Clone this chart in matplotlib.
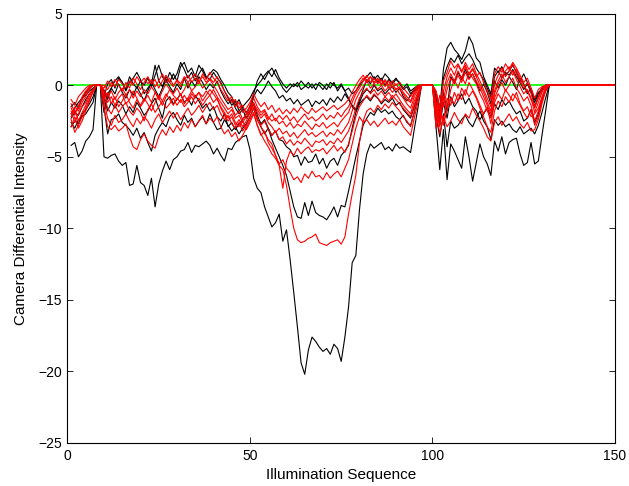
import numpy as np
import matplotlib
matplotlib.use('Agg')  # no display in the sandbox
import matplotlib.pyplot as plt

plt.rcParams['font.family'] = ['Liberation Sans', 'DejaVu Sans']

# Illumination index 1..131 carries data, afterwards every trace sits at 0 up to 150
X_LAST = 150

# Black traces (one per illumination step 1..131)
black_1 = [
    -4.2, -4.0, -5.0, -4.6, -3.9, -3.6, -3.1, 0, 0,
    -5.0, -5.1, -4.9, -4.8, -5.3, -5.6, -5.4, -7.0, -6.9, -5.6,
    -6.8, -7.0, -7.7, -6.5, -8.5, -6.9, -6.0, -5.3, -5.9, -5.2,
    -5.0, -4.6, -4.5, -4.0, -4.7, -4.2, -4.3, -4.1, -3.9, -4.2,
    -4.8, -4.4, -4.9, -5.3, -4.4, -4.5, -4.0, -3.8, -3.6, -3.5,
    -4.5, -6.5, -7.2, -7.5, -8.5, -9.2, -9.9, -9.6, -9.0, -10.9,
    -10.1, -12.2, -14.5, -16.9, -19.4, -20.2, -18.5, -17.6, -17.9, -18.3,
    -18.6, -18.4, -18.8, -18.1, -18.4, -19.3, -17.6, -15.5, -12.4, -11.9,
    -8.7, -6.2, -4.8, -4.1, -4.4, -4.2, -4.0, -4.5, -4.3, -4.6,
    -4.1, -4.4, -4.3, -4.5, -4.7, -3.1, -1.6, 0, 0, 0, 0,
    -3.0, -5.9, -3.1, -6.6, -4.1, -4.6, -5.2, -5.8, -3.6, -5.0,
    -6.7, -5.4, -4.1, -5.0, -5.5, -6.3, -3.9, -4.6, -3.6, -4.8,
    -4.0, -3.8, -3.7, -4.8, -5.6, -5.4, -4.0, -5.5, -5.3, -3.5,
    -1.8,
]
black_2 = [
    -2.6, -3.0, -2.4, -2.2, -2.0, -1.6, -1.2, 0, 0,
    -1.5, -3.4, -2.4, -2.3, -2.0, -2.6, -2.8, -3.1, -3.5, -3.0,
    -3.7, -3.3, -4.0, -4.6, -3.5, -3.0, -2.6, -2.9, -2.2, -1.9,
    -2.4, -2.8, -2.1, -2.6, -2.3, -2.9, -2.5, -2.2, -2.7, -2.0,
    -2.6, -3.1, -3.0, -2.4, -2.8, -3.2, -2.9, -3.4, -3.0, -2.7,
    -2.2, -1.6, -2.4, -2.9, -3.4, -3.0, -3.8, -4.4, -5.0, -5.6,
    -6.3, -7.4, -8.5, -9.2, -9.3, -8.2, -9.1, -8.1, -8.9, -9.1,
    -9.2, -9.4, -9.0, -8.5, -9.2, -8.4, -8.5, -7.4, -6.2, -5.0,
    -3.9, -2.8, -2.3, -1.9, -2.1, -1.6, -1.9, -1.7, -2.0, -1.8,
    -2.2, -2.4, -2.1, -2.6, -2.8, -1.9, -0.9, 0, 0, 0, 0,
    -2.2, -3.6, -2.0, -4.3, -2.5, -3.0, -2.8, -2.4, -2.1, -2.6,
    -2.9, -2.3, -1.8, -2.5, -2.9, -3.8, -2.4, -2.8, -2.5, -2.9,
    -2.7, -3.1, -3.3, -2.9, -3.4, -3.2, -3.0, -3.4, -2.8, -1.9,
    -0.9,
]
black_3 = [
    -2.9, -2.5, -2.7, -2.0, -1.7, -1.3, -0.8, 0, 0,
    -0.9, -1.8, -1.2, -1.6, -1.1, -1.4, -2.0, -1.5, -1.9, -1.2,
    -1.6, -2.1, -1.8, -1.3, -0.9, -1.6, -2.3, -1.1, -0.8, -1.3,
    -1.0, -0.6, -1.2, -0.9, -1.4, -0.7, -1.1, -1.6, -1.3, -1.8,
    -1.5, -2.2, -2.5, -2.0, -2.9, -2.6, -3.1, -2.7, -2.4, -2.0,
    -1.8, -1.3, -2.1, -2.7, -2.4, -3.0, -3.5, -3.2, -3.8, -3.9,
    -4.3, -4.5, -5.0, -4.9, -5.6, -5.0, -5.4, -5.3, -4.8, -5.5,
    -5.1, -5.8, -5.3, -5.1, -5.6, -4.9, -4.6, -4.2, -3.0, -1.9,
    -1.3, -1.0, -0.8, -1.1, -0.7, -0.9, -1.3, -1.0, -1.2, -0.9,
    -1.4, -1.2, -1.7, -2.0, -2.3, -1.5, -0.7, 0, 0, 0, 0,
    -1.6, -2.8, -1.2, -2.3, -0.8, -1.5, -1.1, -0.6, -1.3, -0.9,
    -1.5, -1.8, -2.4, -2.0, -1.6, -2.2, -1.3, -1.7, -1.0, -1.4,
    -1.1, -1.6, -2.0, -1.8, -2.5, -2.3, -1.7, -2.6, -2.0, -1.0,
    -0.4,
]
black_4 = [
    -2.3, -1.9, -2.1, -1.5, -1.0, -0.6, -0.3, 0, 0,
    -0.4, -1.0, -0.2, -0.6, 0.1, -0.5, -0.9, -0.3, -0.7, -0.1,
    -0.6, -1.1, -0.4, 0.2, -0.3, -0.8, -0.2, 0.4, -0.1, -0.5,
    0.1, -0.3, 0.5, -0.2, 0.3, -0.1, 0.6, 0.2, -0.3, 0.1,
    -0.2, 0.3, -0.4, -0.9, -1.3, -1.0, -1.6, -2.0, -1.7, -2.3,
    -1.9, -0.8, -0.3, -0.6, -0.2, 0.3, -0.1, -0.4, -0.9, -0.7,
    -1.1, -0.9, -1.3, -1.0, -1.4, -1.2, -1.0, -1.5, -1.1, -1.3,
    -1.0, -1.4, -0.9, -1.2, -0.8, -1.1, -0.6, -1.0, -1.4, -1.7,
    -1.2, -0.6, -0.3, -0.5, 0.0, -0.4, -0.2, -0.6, -0.3, -0.1,
    -0.5, -0.2, -0.8, -1.1, -0.7, -0.4, -0.2, 0, 0, 0, 0,
    -1.0, -2.4, -0.5, -1.8, 0.6, 0.2, 0.9, 0.4, 1.1, 0.5,
    0.8, 0.2, -0.4, 0.1, -0.5, -1.3, 0.3, -0.2, 0.4, 0.0,
    0.6, 0.2, -0.3, 0.5, 0.1, -0.6, -0.2, -1.0, -0.5, -0.3,
    -0.1,
]
black_5 = [
    -2.0, -1.6, -1.2, -0.9, -0.7, -0.4, -0.2, 0, 0,
    -0.8, 0.1, 0.4, -0.2, 0.5, 0.2, -0.3, 0.6, 0.1, -0.2,
    0.3, 0.0, 0.5, -0.1, 0.7, 1.4, 0.6, 0.2, 0.9, 0.4,
    0.8, 1.6, 1.1, 0.5, 0.9, 0.3, 0.8, 1.2, 0.6, 0.4,
    0.9, 0.5, 0.2, -0.4, -0.9, -1.4, -1.1, -1.8, -1.5, -1.2,
    -0.9, -0.4, 0.0, 0.3, 0.7, 1.0, 0.6, 1.1, 0.5, 0.1,
    -0.2, 0.1, -0.1, 0.2, -0.3, -0.1, 0.2, -0.2, 0.1, 0.0,
    -0.3, 0.1, -0.2, 0.2, -0.4, 0.0, -0.4, -0.9, -1.5, -1.8,
    -1.0, -0.3, 0.4, 0.1, 0.6, 0.2, 0.5, 0.0, 0.4, 0.2,
    0.5, 0.1, -0.3, -0.1, -0.6, -0.3, -0.1, 0, 0, 0, 0,
    -0.8, -2.0, 0.5, 1.3, 1.9, 1.6, 2.1, 1.5, 1.9, 2.2,
    1.8, 1.2, 0.8, 0.4, -0.2, -0.8, 0.6, 1.0, 0.5, 0.9,
    0.7, 1.1, 0.6, 0.2, -0.3, 0.1, -0.5, -1.2, -0.6, -0.2,
    0.0,
]
black_6 = [
    -1.5, -1.2, -1.6, -0.9, -0.5, -0.2, 0.0, 0, 0,
    -1.9, -0.6, -0.2, 0.3, 0.6, 0.2, -0.4, 0.2, 0.5, 0.9,
    0.4, -0.6, -0.2, 0.1, 1.4, 0.3, -0.1, 0.6, 0.2, 0.8,
    0.3, 1.3, 1.6, 0.9, 1.2, 0.6, 1.4, 1.0, 0.5, 0.8,
    1.1, 0.9, 0.4, 0.0, -0.5, -0.8, -1.4, -1.0, -1.6, -1.9,
    -1.5, -0.6, 0.3, 0.8, 0.4, 0.9, 1.2, 0.7, 0.3, -0.2,
    -0.5, -0.2, 0.1, -0.1, 0.3, 0.0, -0.2, 0.1, -0.3, 0.2,
    0.0, -0.3, 0.2, 0.0, -0.2, 0.1, -0.4, -0.2, -0.6, -0.4,
    0.0, 0.3, 0.6, 0.9, 0.4, 0.7, 0.3, 0.8, 0.5, 0.1,
    0.4, 0.2, -0.2, 0.1, -0.4, -0.2, 0.0, 0, 0, 0, 0,
    -0.5, -1.6, 1.1, 2.6, 3.0, 2.5, 2.2, 1.8, 2.4, 3.4,
    2.9, 1.9, 1.6, 0.6, 0.0, -0.6, 1.2, 0.9, 1.3, 0.7,
    1.0, 1.4, 0.9, 0.3, 0.8, 0.2, -0.4, -1.5, -0.8, -0.3,
    0.0,
]

# Red traces
red_1 = [
    -1.8, -2.6, -2.0, -1.5, -1.2, -0.6, -0.3, 0, 0,
    -0.5, -1.2, -0.8, -1.4, -0.9, -0.6, -1.3, -1.0, -0.4, -0.9,
    -1.5, -1.1, -0.7, -1.2, -0.5, -0.9, -1.4, -0.8, -0.3, -0.7,
    -1.0, -0.6, -1.3, -0.9, -0.4, -0.8, -0.5, -1.1, -0.7, -0.3,
    -0.6, -1.0, -1.5, -1.9, -2.3, -2.0, -2.6, -2.9, -2.5, -3.1,
    -2.6, -2.0, -2.8, -3.4, -3.9, -4.3, -4.8, -5.1, -5.6, -5.9,
    -7.0, -8.6, -10.0, -10.8, -11.0, -10.9, -10.7, -10.6, -10.4, -11.0,
    -11.1, -11.2, -11.0, -10.9, -10.8, -11.1, -10.6, -9.0, -7.6, -6.3,
    -4.0, -2.5, -1.8, -1.6, -1.9, -1.4, -1.7, -1.3, -1.6, -1.2,
    -1.5, -1.8, -2.2, -2.5, -2.9, -1.8, -0.8, 0, 0, 0, 0,
    -2.6, -1.4, -2.8, -1.7, -0.9, -1.3, -0.6, -1.0, -0.3, -0.8,
    -0.4, -0.9, -1.6, -2.2, -2.9, -3.3, -1.8, -1.1, -1.5, -0.8,
    -1.2, -0.6, -0.9, -1.4, -1.9, -2.3, -1.7, -2.8, -2.2, -1.1,
    -0.3,
]
red_2 = [
    -2.4, -3.3, -2.8, -2.2, -1.6, -1.0, -0.5, 0, 0,
    -1.6, -2.9, -3.1, -2.8, -3.2, -3.0, -2.7, -3.6, -4.3, -4.5,
    -3.8, -3.4, -3.9, -4.2, -4.4, -3.6, -3.1, -3.5, -2.9, -3.3,
    -2.8, -3.2, -2.6, -3.0, -2.4, -2.9, -2.5, -2.1, -2.7, -2.3,
    -2.6, -2.2, -2.9, -3.4, -3.1, -3.6, -3.3, -3.9, -3.5, -3.0,
    -2.4, -1.9, -2.8, -3.5, -3.2, -4.0, -4.4, -4.9, -5.5, -5.2,
    -5.8, -6.1, -6.6, -6.4, -6.8, -6.2, -6.5, -6.0, -6.4, -6.3,
    -6.6, -6.1, -6.5, -6.2, -6.0, -6.4, -5.8, -5.2, -4.1, -3.0,
    -2.2, -2.6, -2.4, -2.8, -2.5, -2.9, -2.6, -2.3, -2.7, -2.5,
    -2.8, -2.4, -2.9, -3.2, -3.5, -2.3, -1.2, 0, 0, 0, 0,
    -1.8, -3.4, -2.2, -2.9, -2.5, -1.9, -2.4, -2.7, -2.0, -2.3,
    -1.6, -2.1, -2.5, -3.0, -3.6, -3.9, -2.6, -2.2, -2.8, -2.4,
    -2.0, -2.5, -2.2, -2.7, -3.0, -2.6, -3.2, -3.1, -2.4, -1.3,
    -0.4,
]
red_3 = [
    -2.9, -2.2, -3.0, -2.5, -1.8, -1.1, -0.4, 0, 0,
    -1.1, -2.3, -2.8, -2.1, -2.6, -2.4, -2.0, -2.5, -2.9, -2.3,
    -2.7, -2.2, -2.5, -3.0, -2.4, -2.0, -2.6, -2.2, -1.8, -2.3,
    -1.9, -2.4, -2.0, -1.6, -2.1, -1.8, -1.4, -1.9, -1.5, -1.2,
    -1.7, -1.4, -2.0, -2.4, -2.1, -2.7, -3.0, -2.6, -3.2, -2.8,
    -2.2, -1.6, -2.3, -2.9, -3.3, -3.8, -4.1, -4.9, -5.6, -7.2,
    -5.3, -4.6, -4.9, -4.4, -4.8, -4.5, -4.3, -4.7, -4.5, -4.6,
    -4.4, -4.8, -4.5, -4.2, -4.6, -4.3, -4.7, -4.1, -3.2, -2.2,
    -1.5, -1.1, -0.7, -1.0, -0.6, -0.9, -1.2, -0.8, -1.1, -0.7,
    -1.0, -1.3, -1.6, -1.9, -2.2, -1.4, -0.6, 0, 0, 0, 0,
    -3.0, -1.8, -2.5, -0.9, -1.4, -0.5, -1.1, -0.2, -0.7, 0.2,
    -0.3, -0.8, -1.4, -2.0, -1.5, -2.7, -1.2, -0.6, -1.0, -0.3,
    -0.7, -1.1, -0.5, -1.3, -1.8, -1.5, -2.2, -2.0, -1.6, -0.8,
    -0.2,
]
red_4 = [
    -2.0, -1.7, -2.5, -1.9, -1.4, -0.8, -0.3, 0, 0,
    -0.7, -1.6, -2.0, -1.4, -1.9, -1.5, -1.2, -1.8, -2.1, -1.6,
    -1.9, -2.5, -1.7, -1.3, -1.9, -1.5, -1.1, -1.6, -1.3, -0.9,
    -1.4, -1.0, -1.5, -1.2, -0.8, -1.3, -0.9, -1.4, -1.0, -0.7,
    -1.2, -0.9, -1.6, -2.1, -2.5, -2.2, -2.8, -2.4, -2.9, -2.5,
    -1.9, -1.5, -2.4, -2.8, -2.5, -3.1, -3.5, -3.2, -3.8, -3.6,
    -4.1, -3.8, -4.2, -3.9, -4.1, -3.7, -4.0, -4.3, -3.9, -4.0,
    -3.8, -4.2, -3.9, -4.1, -3.7, -4.0, -3.6, -3.2, -2.5, -1.6,
    -0.9, -0.5, -0.2, -0.6, -0.3, -0.7, -0.4, -0.8, -0.5, -0.9,
    -0.6, -1.0, -1.4, -1.7, -2.0, -1.1, -0.5, 0, 0, 0, 0,
    -1.4, -2.9, -0.8, -1.6, -0.3, 0.4, -0.2, 0.6, 0.1, 0.9,
    0.5, 0.1, -0.6, -1.1, -1.8, -2.3, -0.9, -0.3, 0.2, -0.4,
    0.0, 0.5, -0.2, -0.6, -1.1, -0.8, -1.4, -2.5, -1.8, -0.9,
    -0.1,
]
red_5 = [
    -1.6, -2.1, -1.4, -1.0, -0.6, -0.2, 0.0, 0, 0,
    -0.3, -0.8, -0.4, -1.0, -0.5, -0.2, -0.7, -0.3, -0.9, -0.4,
    -0.8, -0.3, -0.6, -0.1, -0.5, -1.0, -0.4, 0.1, -0.3, -0.6,
    -0.2, -0.7, -0.3, 0.2, -0.4, -0.1, 0.3, -0.2, 0.1, 0.4,
    0.0, -0.4, -0.9, -1.3, -1.7, -1.5, -2.1, -1.8, -2.4, -2.0,
    -1.6, -1.2, -1.9, -2.3, -2.0, -2.6, -2.9, -3.3, -3.0, -3.4,
    -3.2, -3.6, -3.3, -3.7, -3.4, -3.1, -3.5, -3.3, -3.6, -3.4,
    -3.2, -3.6, -3.3, -3.5, -3.1, -3.4, -3.0, -2.6, -1.8, -1.0,
    -0.5, -0.1, 0.3, -0.2, 0.1, -0.3, 0.0, -0.4, -0.1, -0.5,
    -0.2, -0.6, -0.9, -1.3, -1.6, -0.8, -0.3, 0, 0, 0, 0,
    -0.6, -2.2, -1.0, 0.2, 0.8, 0.3, 1.0, 0.5, 1.3, 0.7,
    1.1, 0.6, 0.0, -0.5, -1.2, -1.8, -0.4, 0.3, 0.8, 0.2,
    0.6, 1.0, 0.4, -0.1, -0.6, -0.3, -0.9, -1.9, -1.2, -0.5,
    0.0,
]
red_6 = [
    -2.2, -1.5, -1.8, -1.2, -0.8, -0.3, 0.0, 0, 0,
    -0.2, 0.3, -0.1, 0.4, 0.0, -0.4, 0.2, -0.2, 0.5, 0.1,
    -0.3, 0.2, 0.6, 0.1, 0.4, -0.2, 0.3, 0.7, 0.2, -0.1,
    0.4, 0.1, 0.6, 0.2, 0.5, 0.8, 0.3, 0.6, 0.2, 0.5,
    0.2, 0.6, 0.1, -0.4, -0.8, -1.2, -1.0, -1.6, -1.4, -2.0,
    -1.4, -0.9, -1.5, -1.9, -1.7, -2.2, -2.5, -2.3, -2.7, -2.5,
    -2.9, -2.6, -3.0, -2.7, -2.9, -2.5, -2.8, -3.1, -2.7, -2.9,
    -2.6, -3.0, -2.8, -2.6, -2.9, -2.5, -2.2, -1.9, -1.2, -0.6,
    -0.2, 0.3, 0.7, 0.2, 0.5, 0.1, 0.4, -0.1, 0.3, -0.2,
    0.1, -0.3, -0.6, -1.0, -1.2, -0.6, -0.2, 0, 0, 0, 0,
    -1.2, -2.6, -0.4, 0.6, 1.2, 0.7, 1.4, 0.9, 1.6, 1.1,
    1.5, 0.8, 0.3, -0.3, -0.9, -1.5, 0.1, 0.7, 1.2, 0.6,
    1.0, 1.5, 0.8, 0.3, -0.2, 0.2, -0.5, -1.6, -0.8, -0.2,
    0.0,
]
red_7 = [
    -1.3, -1.9, -1.6, -0.8, -0.4, -0.1, 0.0, 0, 0,
    -0.9, -0.5, -1.3, -0.8, -1.5, -1.1, -0.6, -1.2, -1.6, -1.0,
    -1.4, -0.9, -1.3, -1.8, -1.2, -0.7, -1.1, -0.6, -1.0, -1.4,
    -0.9, -1.2, -0.7, -1.1, -0.6, -0.9, -0.5, -0.8, -0.4, -0.7,
    -0.3, -0.8, -1.2, -1.6, -2.0, -1.7, -2.3, -2.1, -2.6, -2.2,
    -1.8, -1.3, -1.7, -2.1, -1.8, -2.4, -2.0, -2.5, -2.1, -2.4,
    -2.1, -2.5, -2.2, -2.6, -2.3, -2.0, -2.4, -2.2, -2.5, -2.3,
    -2.0, -2.4, -2.1, -2.3, -1.9, -2.2, -1.8, -1.5, -0.9, -0.4,
    0.1, 0.5, 0.2, 0.6, 0.1, 0.4, 0.0, 0.3, -0.2, 0.1,
    -0.3, -0.1, -0.5, -0.8, -1.1, -0.5, -0.1, 0, 0, 0, 0,
    -2.0, -0.7, -1.5, -0.3, 0.5, 0.1, 0.7, 0.2, 0.9, 0.4,
    0.8, 0.3, -0.2, -0.8, -1.4, -2.0, -0.6, 0.1, 0.5, 1.0,
    1.3, 0.7, 1.1, 0.5, 0.0, -0.4, -1.0, -1.5, -0.9, -0.4,
    0.0,
]
red_8 = [
    -1.0, -1.4, -0.8, -0.5, -0.2, 0.0, 0.0, 0, 0,
    0.0, -0.3, 0.2, -0.1, 0.4, 0.1, -0.2, 0.3, 0.0, 0.6,
    0.2, 0.5, 0.1, 0.4, -0.1, 0.3, 0.8, 0.2, 0.5, 0.0,
    0.3, -0.1, 0.4, 0.7, 0.2, 0.5, 0.1, 0.8, 0.4, 0.9,
    0.5, 0.2, -0.3, -0.7, -1.1, -0.8, -1.5, -1.2, -1.9, -1.6,
    -1.2, -0.6, -1.1, -1.5, -1.2, -1.7, -1.4, -1.9, -1.6, -2.0,
    -1.7, -2.0, -1.6, -1.9, -1.5, -1.8, -2.0, -1.6, -1.9, -1.7,
    -1.5, -1.8, -1.6, -1.4, -1.7, -1.5, -1.3, -1.0, -0.5, 0.0,
    0.4, 0.7, 0.3, 0.6, 0.2, 0.5, 0.1, 0.4, 0.0, 0.3,
    0.0, 0.2, -0.2, -0.5, -0.8, -0.3, 0.0, 0, 0, 0, 0,
    -0.4, -1.6, 0.3, 0.9, 1.7, 1.2, 1.5, 1.0, 1.4, 0.8,
    1.2, 0.6, 0.9, 0.2, -0.4, -1.0, 0.8, 1.3, 0.9, 1.5,
    1.1, 1.6, 1.2, 0.7, 0.2, 0.5, -0.2, -0.9, -0.3, -0.1,
    0.0,
]

black_traces = [black_1, black_2, black_3, black_4, black_5, black_6]
red_traces = [red_1, red_2, red_3, red_4, red_5, red_6, red_7, red_8]


def pad_trace(values):
    # traces are flat at zero after the last illumination step
    values = np.asarray(values, dtype=float)
    assert len(values) == 131, len(values)
    return np.concatenate([values, np.zeros(X_LAST - len(values))])


def make_plot(output_path="out.png"):
    fig = plt.figure(figsize=(6.29, 4.86), dpi=100)
    ax = fig.add_axes([0.1073, 0.0885, 0.8704, 0.8833])

    x = np.arange(1, X_LAST + 1)

    # zero reference underneath everything
    ax.axhline(0, color='#00ff00', lw=1.2, zorder=1)

    for trace in black_traces:
        ax.plot(x, pad_trace(trace), color='k', lw=0.8, zorder=2)
    for trace in red_traces:
        ax.plot(x, pad_trace(trace), color='r', lw=0.8, zorder=3)

    ax.set_xlim(0, 150)
    ax.set_ylim(-25, 5)
    ax.set_xticks([0, 50, 100, 150])
    ax.set_yticks([-25, -20, -15, -10, -5, 0, 5])
    ax.tick_params(direction='in', length=4, width=0.6, labelsize=10,
                   top=True, right=True, pad=4)
    for spine in ax.spines.values():
        spine.set_linewidth(0.8)

    ax.set_xlabel("Illumination Sequence", fontsize=11, labelpad=4)
    ax.set_ylabel("Camera Differential Intensity", fontsize=11, labelpad=7)

    fig.savefig(output_path, dpi=100)
    plt.close(fig)


make_plot()
